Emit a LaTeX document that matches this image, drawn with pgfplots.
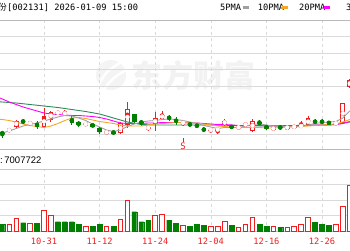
\documentclass[border=0pt]{standalone}
\usepackage{pgfplots}
\pgfplotsset{compat=1.18}
\usepackage{pgfplotstable}
\usepackage{fontspec}
\setmainfont{Liberation Sans}
\newfontfamily\monof{DejaVu Sans Mono}
\newfontfamily\cjk{Noto Sans CJK SC}
\definecolor{upred}{RGB}{240,30,30}
\definecolor{dngreen}{RGB}{0,128,0}
\definecolor{maA}{RGB}{160,160,160}
\definecolor{maB}{RGB}{245,166,35}
\definecolor{maC}{RGB}{255,0,255}
\definecolor{maD}{RGB}{46,139,87}
\definecolor{gridc}{RGB}{218,218,218}

% candles: pixel rows (y grows downward)
\pgfplotstableread{
i o h l c
-5 130.5 129.5 130.8 129.7
-4 126.5 119.5 127.5 121
-2 124.3 121.3 125 122
0 126.7 108 128.3 116
1 120 110.7 122 111.7
2 113 110.5 115 112.5
3 113.5 109.5 116 113
6 124.3 122.7 125.7 123.8
9 132.5 131.3 133.3 132
11 133.3 121.7 134 122.7
12 125 102 127.5 109
15 129.3 125.5 131 126.5
16 124 111.5 131 118.3
17 119 111 120 114
20 123 121 125.7 122.5
24 130.3 128.3 132.7 129.8
25 129.8 129 133.5 129.3
26 124 119.3 126 121
28 128 125.7 129.3 126.7
29 125.5 122.7 126.5 123.5
30 130.7 119.3 131.7 120.7
33 130.3 125.7 131.3 126.7
35 127.8 126.5 129.3 127.3
36 127.3 125.7 128 126.3
37 126.7 120.7 128 125.3
38 125 115.5 126 118.3
42 124.3 121.7 125 122.3
43 123.3 102.7 124 103.3
44 87 79 87.5 80
}\redK
\pgfplotstableread{
i o h l c
-6 132 130.5 138 134
-3 120 119.3 124 122.7
-1 122.7 121.3 129 126.7
4 118.3 116 125 122.7
5 122 121 126.5 125.3
7 124.3 123.3 127.3 126.7
8 127.7 126.7 134 131.7
10 131.7 130.7 134.3 133.3
13 114.3 113.5 123 121.7
14 121 120 125.5 123.5
18 116.5 114.5 121 119.3
19 118.5 117 124.5 123.3
21 123.3 122.3 126.5 125.7
22 124.3 123.5 128 127
23 128 127 132 131.3
27 126 125.5 128.5 127.7
31 122.3 120 125 124
32 126 124.5 129.5 128.5
34 126.5 125.5 129.5 128.3
39 121.3 119.3 124 122.2
40 121.5 119.3 124 122.3
41 122.3 121 125 123.2
}\greenK
\pgfplotstableread{
i v
-5 6.7
-4 12.7
-2 7.3
0 21
1 15.3
6 4.7
9 5
11 11.7
12 30.7
16 15.7
17 16.7
20 5.7
24 5
25 5
26 10
28 3.7
29 6.7
30 13.7
33 4.7
35 3.7
36 5
37 6.7
38 13.7
42 6.7
43 24.3
44 46
}\redV
\pgfplotstableread{
i v
-6 6.7
-3 8.3
-1 7.7
2 9.3
3 9.3
4 9.3
5 6.7
7 4.7
8 6.7
10 4.7
13 19.3
14 9.3
15 11
18 11
19 7.7
21 4.7
22 6.7
23 6
27 6
31 6.7
32 4.7
34 4
39 8.7
40 6.7
41 6
}\greenV

\begin{document}
\begin{tikzpicture}
\useasboundingbox (0,0) rectangle (350pt,250pt);
\clip (0,0) rectangle (350pt,250pt);

% watermark
\begin{scope}
\fill[gray!9] (111pt,175pt) circle (15pt);
\draw[white, line width=2.5pt] (99pt,166pt) .. controls (106pt,178pt) .. (121pt,188pt);
\draw[white, line width=2.5pt] (104pt,161pt) .. controls (113pt,172pt) .. (126pt,180pt);
\node[text=gray!10, font=\cjk\bfseries\fontsize{31}{31}\selectfont, inner sep=0] at (193pt,174pt) {东方财富};
\end{scope}

% title and legend
\node[anchor=base east, inner sep=0, font=\cjk\fontsize{8.7}{9}\selectfont] at (7pt,239.3pt) {利欧股份};
\node[anchor=base west, inner sep=0, font=\monof\fontsize{8.7}{9}\selectfont] at (7pt,239.3pt) {[002131] 2026-01-09 15:00};
\node[anchor=base west, inner sep=0, font=\monof\fontsize{8.7}{9}\selectfont] at (220pt,239.3pt) {5PMA};
\fill[maA] (243.3pt,241pt) rectangle (249.3pt,244pt);
\node[anchor=base west, inner sep=0, font=\monof\fontsize{8.7}{9}\selectfont] at (257.7pt,239.3pt) {10PMA};
\fill[maB] (282.3pt,241pt) rectangle (288.3pt,244pt);
\node[anchor=base west, inner sep=0, font=\monof\fontsize{8.7}{9}\selectfont] at (299pt,239.3pt) {20PMA};
\fill[maC] (324pt,241pt) rectangle (330pt,244pt);
\node[anchor=base west, inner sep=0, font=\monof\fontsize{8.7}{9}\selectfont] at (346pt,239.3pt) {30PMA};

% volume label
\node[anchor=base west, inner sep=0, font=\fontsize{9.5}{10}\selectfont] at (0pt,87pt) {:\,7007722};

% price panel
\begin{axis}[
  at={(-10pt,101pt)}, anchor=south west,
  scale only axis, width=370pt, height=129pt,
  xmin=-7.77, xmax=45.47, ymin=20, ymax=149, y dir=reverse,
  xtick={0,8,16,24,32,40}, xticklabels={},
  ytick={36,53,69,86,134}, yticklabels={},
  xmajorgrids, ymajorgrids,
  x grid style={gridc, dash pattern=on 3pt off 3pt},
  y grid style={gridc},
  major tick length=0pt,
  axis line style={gray!55, line width=0.9pt},
]
% wicks
\addplot[upred, only marks, mark=none, forget plot,
  error bars/.cd, y dir=both, y explicit, error mark=none,
  error bar style={line width=0.9pt, upred}]
  table[x=i, y expr={(\thisrow{h}+\thisrow{l})/2}, y error expr={(\thisrow{l}-\thisrow{h})/2}] {\redK};
\addplot[dngreen, only marks, mark=none, forget plot,
  error bars/.cd, y dir=both, y explicit, error mark=none,
  error bar style={line width=0.9pt, dngreen}]
  table[x=i, y expr={(\thisrow{h}+\thisrow{l})/2}, y error expr={(\thisrow{l}-\thisrow{h})/2}] {\greenK};
% bodies
\addplot[upred, only marks, mark=none, forget plot,
  error bars/.cd, y dir=both, y explicit, error mark=none,
  error bar style={line width=4.7pt, upred}]
  table[x=i, y expr={(\thisrow{o}+\thisrow{c})/2}, y error expr={max(abs(\thisrow{o}-\thisrow{c})/2,0.5)}] {\redK};
\addplot[white, only marks, mark=none, forget plot,
  error bars/.cd, y dir=both, y explicit, error mark=none,
  error bar style={line width=2.9pt, white}]
  table[x=i, y expr={(\thisrow{o}+\thisrow{c})/2}, y error expr={max(abs(\thisrow{o}-\thisrow{c})/2-0.9,0)}] {\redK};
\addplot[dngreen, only marks, mark=none, forget plot,
  error bars/.cd, y dir=both, y explicit, error mark=none,
  error bar style={line width=4.5pt, dngreen}]
  table[x=i, y expr={(\thisrow{o}+\thisrow{c})/2}, y error expr={max(abs(\thisrow{o}-\thisrow{c})/2,0.5)}] {\greenK};
% moving averages
\addplot[maD, line width=0.9pt] coordinates {(-7,101.5) (-6,102) (-4,103) (-2,104.5) (0,106) (2,107.5) (4,109.5) (6,111.5) (8,114) (10,118) (12,122) (14,124.5) (16,125) (20,125) (24,125) (28,125.5) (32,126) (36,125.5) (40,125) (42,124.5) (44,122)};
\addplot[maC, line width=0.9pt] coordinates {(-7,96) (-6,99) (-5,102) (-4,104.5) (-3,107) (-2,109) (-1,111) (0,113) (1,114) (2,114.5) (3,115) (4,115.5) (5,115.5) (6,116) (7,116.5) (8,117.5) (9,119) (10,121) (11,123) (12,123.5) (13,123.5) (14,123.5) (15,123) (16,123) (17,122.5) (18,122.5) (19,122.5) (20,122.5) (21,123) (22,123) (23,123.5) (24,124) (25,124.5) (26,124.5) (27,125) (28,125.5) (29,125.5) (30,125.5) (31,125.5) (32,126) (33,126) (34,126) (35,126) (36,126) (37,125.5) (38,125.5) (39,125) (40,125) (41,125) (42,124.5) (43,123.5) (44,121.5)};
\addplot[maB, line width=0.9pt] coordinates {(-7,119) (-6,119.5) (-5,120.5) (-4,122) (-3,124) (-2,125.5) (-1,126.5) (0,127.5) (1,126) (2,123.5) (3,120.5) (4,118) (5,117.5) (6,118.5) (7,120) (8,121.5) (9,122.5) (10,123.5) (11,125) (12,126) (13,126) (14,126) (15,125) (16,124) (17,123.5) (18,123) (19,122.5) (20,122.5) (21,123) (22,123) (23,124) (24,125) (25,126) (26,126.5) (27,127) (28,127.5) (29,127.5) (30,127.5) (31,127.5) (32,128) (33,128) (34,127.5) (35,127) (36,126.5) (37,126.5) (38,126) (39,125.5) (40,125) (41,124.5) (42,124) (43,122) (44,119.5)};
\addplot[maA, line width=0.9pt] coordinates {(-7,135) (-6,133) (-5,131) (-4,128.5) (-3,126) (-2,124.5) (-1,123) (0,121) (1,119) (2,117) (3,115.5) (4,116) (5,118) (6,120.5) (7,124) (8,127) (9,130) (10,131.5) (11,130) (12,126.5) (13,124) (14,122) (15,121) (16,120.5) (17,119.5) (18,119) (19,119.5) (20,120.5) (21,122) (22,123.5) (23,125.5) (24,127) (25,128.5) (26,127.5) (27,127.5) (28,127.5) (29,126) (30,124.5) (31,124) (32,125) (33,126) (34,126.5) (35,127) (36,127) (37,126.5) (38,125) (39,123.5) (40,122.5) (41,122) (42,121.5) (43,118) (44,111)};
% sell signal
\addplot[upred, line width=0.8pt] coordinates {(20,138) (20,142)};
\addplot[upred, only marks, mark=none, nodes near coords={S}, point meta=explicit symbolic,
  every node near coord/.style={anchor=center, text=upred, font=\monof\fontsize{9}{9}\selectfont}]
  coordinates {(20,146.5) [S]};
\end{axis}

% volume panel
\begin{axis}[
  at={(-10pt,19pt)}, anchor=south west,
  scale only axis, width=370pt, height=62pt,
  xmin=-7.77, xmax=45.47, ymin=0, ymax=62,
  xtick={0,8,16,24,32,40}, xticklabels={10-31,11-12,11-24,12-04,12-16,12-26},
  xticklabel style={anchor=base, yshift=-13pt, text=upred, font=\monof\fontsize{8.7}{9}\selectfont},
  ytick={15.5,31,46.5}, yticklabels={},
  xmajorgrids, ymajorgrids,
  x grid style={gridc, dash pattern=on 3pt off 3pt},
  y grid style={gridc},
  major tick length=0pt,
  axis line style={gray!45, line width=0.8pt},
]
\addplot[ybar, bar width=4.6pt, bar shift=0pt, draw=upred, fill=white, line width=0.8pt] table[x=i, y=v] {\redV};
\addplot[ybar, bar width=4.8pt, bar shift=0pt, draw=dngreen, fill=dngreen, line width=0.3pt] table[x=i, y=v] {\greenV};
\end{axis}
\end{tikzpicture}
\end{document}
